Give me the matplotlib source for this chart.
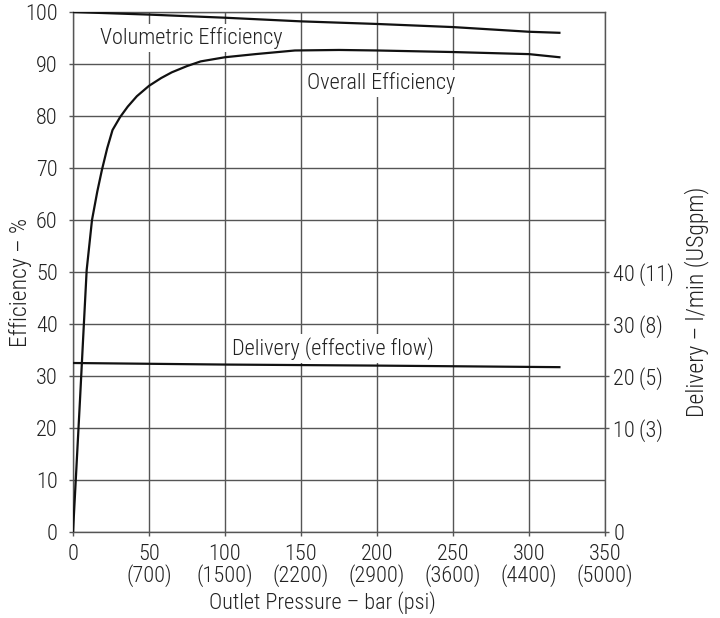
import matplotlib.pyplot as plt
from matplotlib import font_manager

names = {f.name for f in font_manager.fontManager.ttflist}
fam = next((n for n in ['Roboto Condensed', 'Fira Sans Condensed', 'Archivo Narrow', 'Liberation Sans'] if n in names), 'DejaVu Sans')
plt.rcParams['font.family'] = [fam, 'DejaVu Sans']
plt.rcParams['font.weight'] = 'light'

# data (bar on x, % on left axis)
vol_x = [0, 50, 100, 150, 200, 250, 300, 320]
vol_y = [100, 99.5, 98.9, 98.2, 97.7, 97.1, 96.2, 96.0]

ovr_x = [0, 2, 4.6, 6.8, 9, 12.5, 16, 19, 22.5, 26, 31, 36, 42, 50, 58, 65, 75, 84, 100, 120, 146, 175, 200, 250, 300, 320]
ovr_y = [0, 11, 25.4, 38, 50.4, 60, 65.5, 69.6, 73.8, 77.3, 79.8, 81.8, 83.8, 85.8, 87.3, 88.4, 89.6, 90.5, 91.3, 91.9, 92.6, 92.7, 92.6, 92.3, 91.9, 91.3]

del_x = [0, 100, 200, 320]
del_y = [32.5, 32.2, 32.0, 31.7]

x_ticks = [0, 50, 100, 150, 200, 250, 300, 350]
x_labels = ["0", "50\n(700)", "100\n(1500)", "150\n(2200)", "200\n(2900)",
            "250\n(3600)", "300\n(4400)", "350\n(5000)"]
y_ticks = list(range(0, 101, 10))
r_ticks = [0, 20, 30, 40, 50]
r_labels = ["0", "10\u2009(3)", "20\u2009(5)", "30\u2009(8)", "40\u2009(11)"]

grid_c = '#555555'
txt_c = '#222222'

fig = plt.figure(figsize=(7.2, 6.18), dpi=100)
ax = fig.add_axes([73/720, 1-532/618, 532/720, 520/618])

ax.plot(vol_x, vol_y, color='#111111', lw=1.6, zorder=3)
ax.plot(ovr_x, ovr_y, color='#111111', lw=1.6, zorder=3)
ax.plot(del_x, del_y, color='#111111', lw=1.6, zorder=3)

ax.set_xlim(0, 350)
ax.set_ylim(0, 100)
ax.set_xticks(x_ticks)
ax.set_xticklabels(x_labels, linespacing=0.9)
ax.set_yticks(y_ticks)
ax.grid(True, color=grid_c, lw=1.0, zorder=1)
for s in ax.spines.values():
    s.set_color(grid_c)
    s.set_linewidth(1.0)
ax.tick_params(colors=grid_c, labelcolor=txt_c, labelsize=16, length=3, width=1.0)
ax.tick_params(axis='x', pad=6)
ax.tick_params(axis='y', pad=8)

ax2 = ax.twinx()
ax2.set_ylim(0, 100)
ax2.set_yticks(r_ticks)
ax2.set_yticklabels(r_labels)
ax2.tick_params(colors=grid_c, labelcolor=txt_c, labelsize=16, length=3, width=1.0, pad=3)
for s in ax2.spines.values():
    s.set_visible(False)

# axis titles placed as in the original
fig.text(322/720, 1-603/618, "Outlet Pressure \u2013 bar (psi)", fontsize=16, color=txt_c,
         ha='center', va='center')
fig.text(20/720, 1-282/618, "Efficiency \u2013 %", fontsize=17, color=txt_c,
         ha='center', va='center', rotation=90)
fig.text(697/720, 1-302/618, "Delivery \u2013 l/min (USgpm)", fontsize=17, color=txt_c,
         ha='center', va='center', rotation=90)

box = dict(facecolor='white', edgecolor='none', pad=2)
ax.text(17.8, 95.0, "Volumetric Efficiency", fontsize=16, color=txt_c,
        va='center', ha='left', bbox=box, zorder=2)
ax.text(154, 86.3, "Overall Efficiency", fontsize=16, color=txt_c,
        va='center', ha='left', bbox=box, zorder=2)
ax.text(104.5, 35.3, "Delivery (effective flow)", fontsize=16, color=txt_c,
        va='center', ha='left', bbox=box, zorder=2)

fig.savefig("out.png", dpi=100)
